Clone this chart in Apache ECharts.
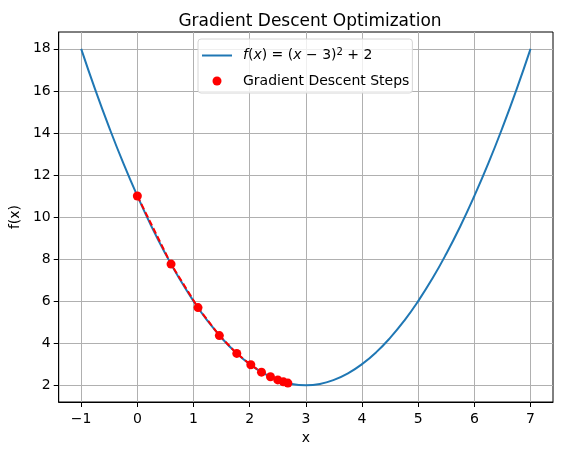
<!DOCTYPE html>
<html>
<head>
<meta charset="utf-8">
<script src="https://cdn.jsdelivr.net/npm/echarts@6/dist/echarts.min.js"></script>
<style>
  html, body { margin: 0; padding: 0; background: #fff; }
  #main { width: 563px; height: 455px; }
</style>
</head>
<body>
<div id="main"></div>
<script>
// curve samples
var curveX = [-1, -0.75, -0.5, -0.25, 0, 0.25, 0.5, 0.75, 1, 1.25, 1.5, 1.75, 2, 2.25, 2.5, 2.75,
              3, 3.25, 3.5, 3.75, 4, 4.25, 4.5, 4.75, 5, 5.25, 5.5, 5.75, 6, 6.25, 6.5, 6.75, 7];
var curveY = [18, 16.06, 14.25, 12.56, 11, 9.56, 8.25, 7.06, 6, 5.06, 4.25, 3.56, 3, 2.56, 2.25, 2.06,
              2, 2.06, 2.25, 2.56, 3, 3.56, 4.25, 5.06, 6, 7.06, 8.25, 9.56, 11, 12.56, 14.25, 16.06, 18];

// gradient descent steps
var stepX = [0, 0.6, 1.08, 1.46, 1.77, 2.02, 2.21, 2.37, 2.50, 2.60, 2.68];
var stepY = [11, 7.76, 5.69, 4.36, 3.51, 2.97, 2.62, 2.40, 2.25, 2.16, 2.10];

var xTicks = [-1, 0, 1, 2, 3, 4, 5, 6, 7];
var yTicks = [2, 4, 6, 8, 10, 12, 14, 16, 18];

var curveName = 'f(x) = (x - 3)^2 + 2';
var stepsName = 'Gradient Descent Steps';

function pairs(xs, ys) {
    var out = [];
    for (var i = 0; i < xs.length; i++) {
        out.push([xs[i], ys[i]]);
    }
    return out;
}

var font = 'DejaVu Sans';
var myChart = echarts.init(document.getElementById('main'));

var option = {
    animation: false,
    backgroundColor: '#fff',
    textStyle: { fontFamily: font },
    title: {
        text: 'Gradient Descent Optimization',
        left: 305,
        textAlign: 'center',
        top: 8,
        textStyle: { fontFamily: font, fontSize: 17, fontWeight: 'normal', color: '#000' }
    },
    grid: {
        left: 57, right: 10, top: 32, bottom: 53,
        show: true,
        borderColor: '#000',
        borderWidth: 1,
        backgroundColor: 'transparent'
    },
    legend: {
        orient: 'vertical',
        left: 198,
        top: 39,
        itemWidth: 30,
        itemHeight: 9,
        itemGap: 9,
        padding: [8, 3, 4, 4],
        borderColor: '#d6d6d6',
        borderWidth: 1,
        borderRadius: 3,
        backgroundColor: 'rgba(255,255,255,0.8)',
        data: [
            { name: curveName, icon: 'path://M0,0 h30 v2 h-30 z' },
            { name: stepsName, icon: 'circle' }
        ],
        formatter: function (name) {
            if (name === curveName) {
                return '{i|f}({i|x}) = ({i|x} \u2212 3){s|2} + 2';
            }
            return name;
        },
        textStyle: {
            fontFamily: font,
            fontSize: 14,
            color: '#000',
            lineHeight: 16,
            padding: [0, 0, 0, 6],
            rich: {
                i: { fontFamily: font, fontSize: 14, fontStyle: 'italic', lineHeight: 16 },
                s: { fontFamily: font, fontSize: 10, lineHeight: 16, padding: [0, 0, 7, 0] }
            }
        }
    },
    xAxis: {
        type: 'value',
        min: -1.4,
        max: 7.4,
        name: 'x',
        nameLocation: 'middle',
        nameGap: 29,
        nameTextStyle: { fontFamily: font, fontSize: 14, color: '#000' },
        axisLine: { show: true, onZero: false, lineStyle: { color: '#000', width: 1 } },
        axisTick: { show: true, length: 5, customValues: xTicks, lineStyle: { color: '#000' } },
        axisLabel: {
            customValues: xTicks,
            margin: 10,
            fontFamily: font,
            fontSize: 14,
            color: '#000',
            formatter: function (v) { return v < 0 ? '\u2212' + (-v) : String(v); }
        },
        splitLine: { show: true, lineStyle: { color: '#b0b0b0', width: 1 } }
    },
    yAxis: {
        type: 'value',
        min: 1.2,
        max: 18.8,
        name: 'f(x)',
        nameLocation: 'middle',
        nameGap: 36,
        nameRotate: 90,
        nameTextStyle: { fontFamily: font, fontSize: 14, color: '#000' },
        axisLine: { show: true, onZero: false, lineStyle: { color: '#000', width: 1 } },
        axisTick: { show: true, length: 5, customValues: yTicks, lineStyle: { color: '#000' } },
        axisLabel: {
            customValues: yTicks,
            margin: 8,
            fontFamily: font,
            fontSize: 14,
            color: '#000'
        },
        splitLine: { show: true, lineStyle: { color: '#b0b0b0', width: 1 } }
    },
    series: [
        {
            name: curveName,
            type: 'line',
            data: pairs(curveX, curveY),
            smooth: true,
            symbol: 'none',
            lineStyle: { color: '#1f77b4', width: 2 },
            itemStyle: { color: '#1f77b4' },
            z: 2
        },
        {
            name: 'steps-path',
            type: 'line',
            data: pairs(stepX, stepY),
            symbol: 'none',
            lineStyle: { color: '#ff0000', width: 2, type: [6, 3] },
            z: 3
        },
        {
            name: stepsName,
            type: 'scatter',
            data: pairs(stepX, stepY),
            symbol: 'circle',
            symbolSize: 9,
            itemStyle: { color: '#ff0000', opacity: 1 },
            z: 4
        }
    ]
};

myChart.setOption(option);
</script>
</body>
</html>
